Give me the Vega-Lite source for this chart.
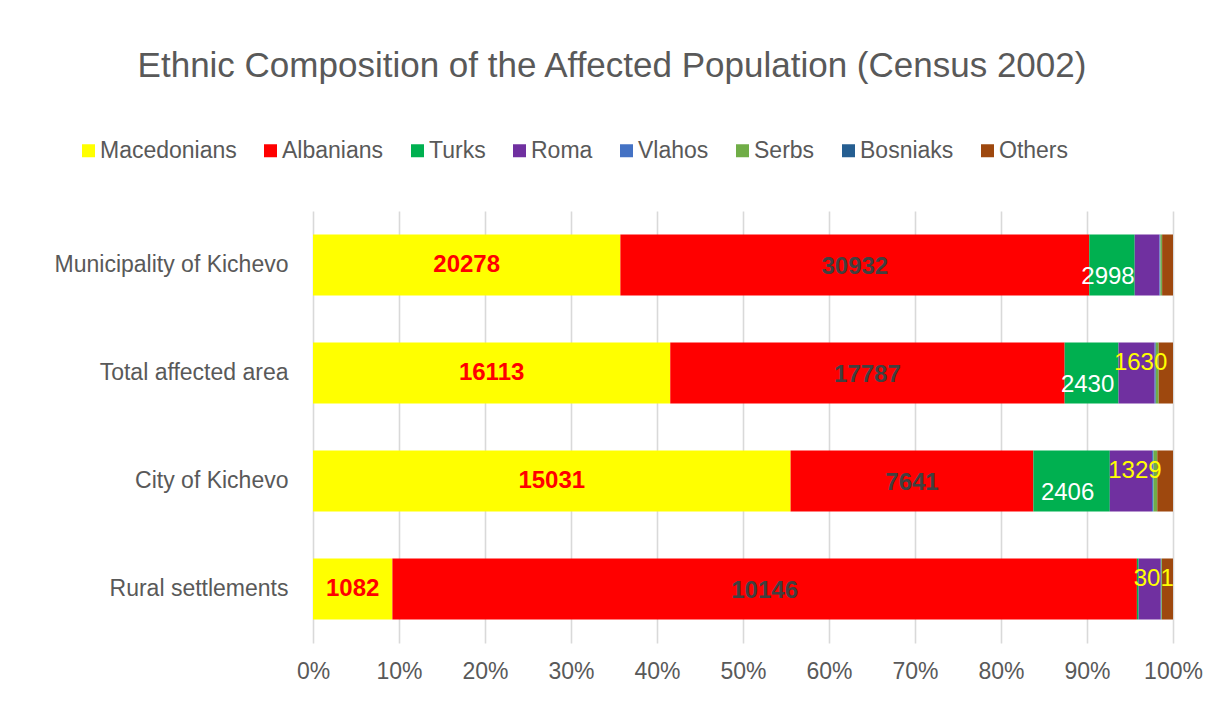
{
  "$schema": "https://vega.github.io/schema/vega-lite/v6.json",
  "width": 860,
  "height": 432,
  "autosize": {"type": "none"},
  "padding": {"left": 313, "top": 211, "right": 35, "bottom": 61},
  "background": "white",
  "title": {
    "text": "Ethnic Composition of the Affected Population (Census 2002)",
    "fontSize": 35,
    "fontWeight": "normal",
    "color": "#595959",
    "anchor": "middle",
    "dx": -131,
    "offset": 55
  },
  "data": {
    "values": [
      {"cat": "Municipality of Kichevo", "eth": "Macedonians", "count": 20278},
      {"cat": "Municipality of Kichevo", "eth": "Albanians", "count": 30932},
      {"cat": "Municipality of Kichevo", "eth": "Turks", "count": 2998},
      {"cat": "Municipality of Kichevo", "eth": "Roma", "count": 1634},
      {"cat": "Municipality of Kichevo", "eth": "Vlahos", "count": 62},
      {"cat": "Municipality of Kichevo", "eth": "Serbs", "count": 102},
      {"cat": "Municipality of Kichevo", "eth": "Bosniaks", "count": 11},
      {"cat": "Municipality of Kichevo", "eth": "Others", "count": 717},
      {"cat": "Total affected area", "eth": "Macedonians", "count": 16113},
      {"cat": "Total affected area", "eth": "Albanians", "count": 17787},
      {"cat": "Total affected area", "eth": "Turks", "count": 2430},
      {"cat": "Total affected area", "eth": "Roma", "count": 1630},
      {"cat": "Total affected area", "eth": "Vlahos", "count": 51},
      {"cat": "Total affected area", "eth": "Serbs", "count": 127},
      {"cat": "Total affected area", "eth": "Bosniaks", "count": 4},
      {"cat": "Total affected area", "eth": "Others", "count": 645},
      {"cat": "City of Kichevo", "eth": "Macedonians", "count": 15031},
      {"cat": "City of Kichevo", "eth": "Albanians", "count": 7641},
      {"cat": "City of Kichevo", "eth": "Turks", "count": 2406},
      {"cat": "City of Kichevo", "eth": "Roma", "count": 1329},
      {"cat": "City of Kichevo", "eth": "Vlahos", "count": 46},
      {"cat": "City of Kichevo", "eth": "Serbs", "count": 117},
      {"cat": "City of Kichevo", "eth": "Bosniaks", "count": 2},
      {"cat": "City of Kichevo", "eth": "Others", "count": 495},
      {"cat": "Rural settlements", "eth": "Macedonians", "count": 1082},
      {"cat": "Rural settlements", "eth": "Albanians", "count": 10146},
      {"cat": "Rural settlements", "eth": "Turks", "count": 24},
      {"cat": "Rural settlements", "eth": "Roma", "count": 301},
      {"cat": "Rural settlements", "eth": "Vlahos", "count": 5},
      {"cat": "Rural settlements", "eth": "Serbs", "count": 10},
      {"cat": "Rural settlements", "eth": "Bosniaks", "count": 2},
      {"cat": "Rural settlements", "eth": "Others", "count": 150}
    ]
  },
  "transform": [
    {"stack": "count", "groupby": ["cat"], "offset": "normalize", "as": ["s0", "s1"]}
  ],
  "encoding": {
    "y": {
      "field": "cat",
      "type": "nominal",
      "sort": ["Municipality of Kichevo", "Total affected area", "City of Kichevo", "Rural settlements"],
      "scale": {"paddingInner": 0.435, "paddingOuter": 0.2175},
      "title": null,
      "axis": {
        "domain": false,
        "ticks": false,
        "labelFontSize": 23,
        "labelColor": "#595959",
        "labelPadding": 25,
        "labelLimit": 400
      }
    }
  },
  "layer": [
    {
      "mark": {"type": "bar"},
      "encoding": {
        "x": {
          "field": "s0",
          "type": "quantitative",
          "scale": {"domain": [0, 1], "nice": false},
          "title": null,
          "axis": {
            "values": [0, 0.1, 0.2, 0.3, 0.4, 0.5, 0.6, 0.7, 0.8, 0.9, 1],
            "format": ".0%",
            "domain": false,
            "ticks": false,
            "grid": true,
            "gridColor": "#D9D9D9",
            "gridWidth": 1.6,
            "labelFontSize": 23,
            "labelColor": "#595959",
            "labelPadding": 17,
            "labelFlush": false
          }
        },
        "x2": {"field": "s1"},
        "color": {
          "field": "eth",
          "type": "nominal",
          "scale": {
            "domain": ["Macedonians", "Albanians", "Turks", "Roma", "Vlahos", "Serbs", "Bosniaks", "Others"],
            "range": ["#FFFF00", "#FF0000", "#00B050", "#7030A0", "#4472C4", "#70AD47", "#255E91", "#9E480E"]
          },
          "legend": {
            "orient": "none",
            "legendX": -236,
            "legendY": -72,
            "direction": "horizontal",
            "columns": 8,
            "title": null,
            "symbolType": "square",
            "symbolSize": 169,
            "symbolStrokeWidth": 0,
            "labelFontSize": 23,
            "labelColor": "#595959",
            "labelOffset": 0,
            "columnPadding": 22,
            "padding": 0
          }
        }
      }
    },
    {
      "transform": [
        {"filter": {"field": "eth", "equal": "Macedonians"}},
        {"fold": ["s0", "s1"], "as": ["edge", "pos"]}
      ],
      "mark": {"type": "text", "fontSize": 24, "fontWeight": "bold", "color": "#FF0000", "baseline": "middle"},
      "encoding": {
        "x": {"aggregate": "mean", "field": "pos", "type": "quantitative", "title": null},
        "text": {"field": "count", "type": "quantitative", "format": "d"}
      }
    },
    {
      "transform": [
        {"filter": {"field": "eth", "equal": "Albanians"}},
        {"fold": ["s0", "s1"], "as": ["edge", "pos"]}
      ],
      "mark": {"type": "text", "fontSize": 24, "fontWeight": "bold", "color": "#404040", "baseline": "middle", "dy": 2},
      "encoding": {
        "x": {"aggregate": "mean", "field": "pos", "type": "quantitative", "title": null},
        "text": {"field": "count", "type": "quantitative", "format": "d"}
      }
    },
    {
      "transform": [
        {"filter": "datum.eth == 'Turks' && datum.cat != 'Rural settlements'"},
        {"fold": ["s0", "s1"], "as": ["edge", "pos"]}
      ],
      "mark": {"type": "text", "fontSize": 24, "color": "#FFFFFF", "baseline": "middle", "dy": 12, "dx": -4},
      "encoding": {
        "x": {"aggregate": "mean", "field": "pos", "type": "quantitative", "title": null},
        "text": {"field": "count", "type": "quantitative", "format": "d"}
      }
    },
    {
      "transform": [
        {"filter": "datum.eth == 'Roma' && datum.cat != 'Municipality of Kichevo'"},
        {"fold": ["s0", "s1"], "as": ["edge", "pos"]}
      ],
      "mark": {"type": "text", "fontSize": 24, "color": "#FFFF00", "baseline": "middle", "dy": -10, "dx": 4},
      "encoding": {
        "x": {"aggregate": "mean", "field": "pos", "type": "quantitative", "title": null},
        "text": {"field": "count", "type": "quantitative", "format": "d"}
      }
    }
  ],
  "config": {
    "font": "Liberation Sans",
    "view": {"stroke": null}
  }
}
